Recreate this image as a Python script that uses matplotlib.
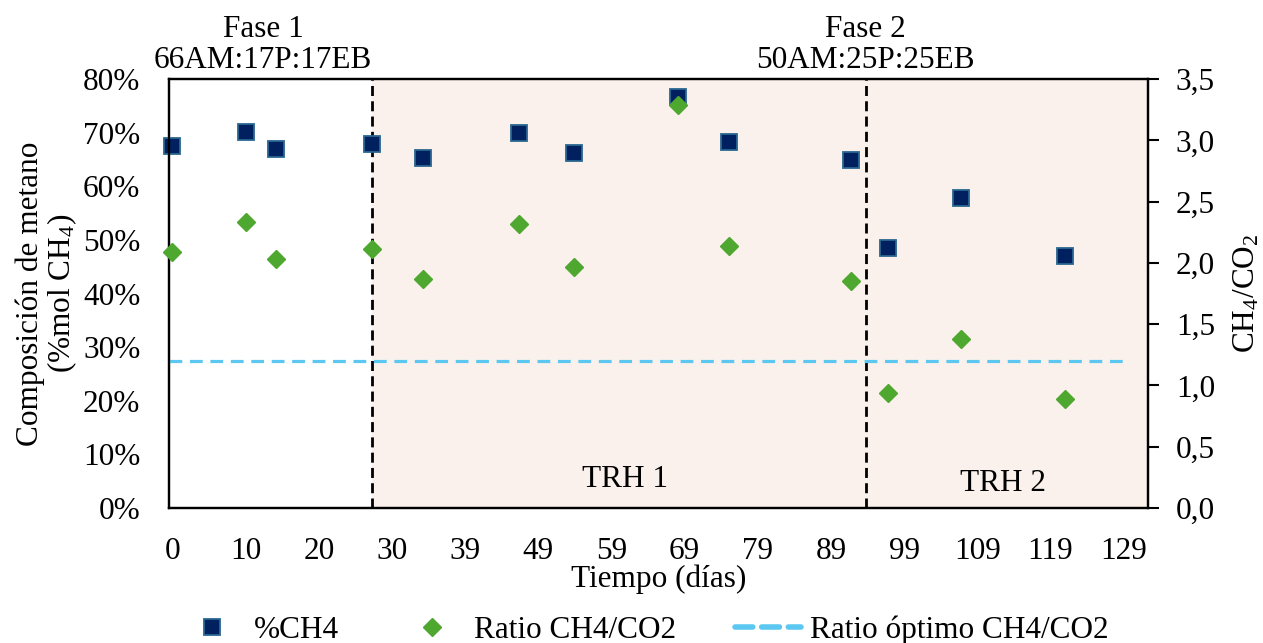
import numpy as np
import matplotlib
matplotlib.use("Agg")
import matplotlib.pyplot as plt
from matplotlib.lines import Line2D

# datos
dias = [0, 10, 14, 27, 34, 47, 54.5, 68.5, 75.5, 92, 97, 107, 121]
ch4 = [67.6, 70.1, 67.0, 67.9, 65.3, 69.9, 66.3, 76.7, 68.2, 64.9, 48.5, 57.9, 47.0]
ratio = [2.09, 2.33, 2.03, 2.11, 1.87, 2.32, 1.97, 3.29, 2.14, 1.85, 0.94, 1.38, 0.89]
ratio_optimo = 1.2
optimo_dias = [-0.4, 129.5]

cambio_fase = 27
cambio_trh = 94

xtick_labels = ["0", "10", "20", "30", "39", "49", "59", "69", "79", "89",
                "99", "109", "119", "129"]
ytick_left = [0, 10, 20, 30, 40, 50, 60, 70, 80]
ytick_right = [0.0, 0.5, 1.0, 1.5, 2.0, 2.5, 3.0, 3.5]

NAVY = "#002060"
NAVY_EDGE = "#2A6690"
GREEN = "#4EA72E"
LIGHT_BLUE = "#5CC8F2"
SHADE = "#FBF1EC"
FS = 22.5


def main():
    plt.rcParams["font.family"] = ["Liberation Serif", "DejaVu Serif"]
    plt.rcParams["mathtext.default"] = "regular"

    fig = plt.figure(figsize=(12.63, 6.43), dpi=100)
    ax = fig.add_axes([0.1342, 0.21, 0.7748, 0.667])
    ax2 = ax.twinx()

    x_min, x_max = -0.4, 132.3
    ax.axvspan(cambio_fase, x_max, color=SHADE, zorder=0, lw=0)
    for xv in (cambio_fase, cambio_trh):
        ax.axvline(xv, color="black", lw=2.0, dashes=(3.6, 1.9), zorder=1)

    ax.plot(dias, ch4, ls="none", marker="s", ms=11, mfc=NAVY, mec=NAVY_EDGE,
            mew=1.3, zorder=3, clip_on=False)
    ax2.plot(dias, ratio, ls="none", marker="D", ms=9.5, mfc=GREEN, mec=GREEN,
             zorder=3, clip_on=False)
    ax2.plot(optimo_dias, [ratio_optimo, ratio_optimo], color=LIGHT_BLUE, lw=2.3,
             dashes=(4, 2.4), zorder=2)

    ax.set_xlim(x_min, x_max)
    ax.set_ylim(0, 80)
    ax2.set_ylim(0, 3.5)

    ax.set_xticks(np.linspace(0, 129, len(xtick_labels)))
    ax.set_xticklabels(xtick_labels)
    ax.set_yticks(ytick_left)
    ax.set_yticklabels([f"{v}%" for v in ytick_left])
    ax2.set_yticks(ytick_right)
    ax2.set_yticklabels([f"{v:.1f}".replace(".", ",") for v in ytick_right])

    ax.tick_params(axis="x", length=0, pad=21, labelsize=FS)
    ax.tick_params(axis="y", length=0, pad=21, labelsize=FS)
    ax2.tick_params(axis="y", length=8, width=1.5, pad=12, labelsize=FS)

    for a in (ax, ax2):
        for s in a.spines.values():
            s.set_linewidth(1.6)
            s.set_color("black")
    ax2.patch.set_visible(False)

    ax.set_xlabel("Tiempo (días)", fontsize=FS, labelpad=-1)
    ax.set_ylabel("Composición de metano\n(%mol CH$_4$)", fontsize=FS,
                  linespacing=1.0, labelpad=3)
    ax2.set_ylabel("CH$_4$/CO$_2$", fontsize=FS, labelpad=12)

    ax.text(12.3, 1.01, "Fase 1\n66AM:17P:17EB", transform=ax.get_xaxis_transform(),
            ha="center", va="bottom", fontsize=FS, linespacing=1.1)
    ax.text(cambio_trh, 1.01, "Fase 2\n50AM:25P:25EB",
            transform=ax.get_xaxis_transform(), ha="center", va="bottom",
            fontsize=FS, linespacing=1.1)
    ax.text(61.4, 5.3, "TRH 1", ha="center", va="center", fontsize=FS)
    ax.text(112.6, 4.6, "TRH 2", ha="center", va="center", fontsize=FS)

    handles = [
        Line2D([], [], ls="none", marker="s", ms=11, mfc=NAVY, mec=NAVY_EDGE, mew=1.3),
        Line2D([], [], ls="none", marker="D", ms=9.5, mfc=GREEN, mec=GREEN),
        Line2D([], [], color=LIGHT_BLUE, lw=4, dashes=(3.2, 1.6),
               solid_capstyle="round", dash_capstyle="round"),
    ]
    labels = ["%CH4", "Ratio CH4/CO2", "Ratio óptimo CH4/CO2"]
    fig.legend(handles, labels, loc="center", bbox_to_anchor=(0.51, 0.02), ncol=3,
               frameon=False, fontsize=FS, handlelength=2.1, handletextpad=0.3,
               columnspacing=1.9)

    fig.savefig("out.png", dpi=100)


if __name__ == "__main__":
    main()
